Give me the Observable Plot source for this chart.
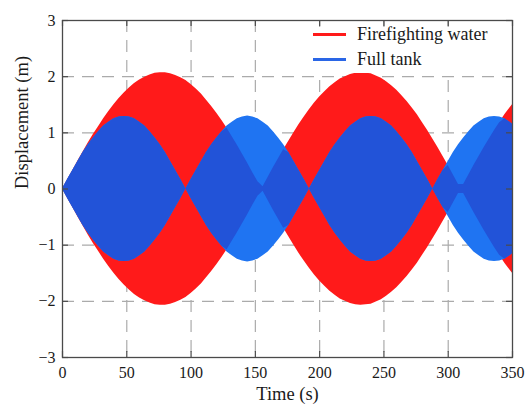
<!DOCTYPE html>
<html>
<head>
<meta charset="utf-8">
<script src="https://cdn.jsdelivr.net/npm/d3@7"></script>
<script src="https://cdn.jsdelivr.net/npm/@observablehq/plot@0.6"></script>
<style>
  html, body { margin: 0; padding: 0; background: #fff; }
  #wrap { position: relative; width: 526px; height: 405px; font-family: "Liberation Serif", "Times New Roman", serif; }
  #legendBox { position: absolute; left: 305px; top: 27px; width: 205px; height: 46px; background: #fff; }
  .row { position: absolute; left: 313px; height: 24px; line-height: 24px; font-size: 18px; color: #1a1a1a; white-space: nowrap; }
  .sw { display: inline-block; width: 33px; height: 3px; vertical-align: middle; margin-right: 11px; position: relative; top: -1px; }
</style>
</head>
<body>
<div id="wrap">
  <div id="chart"></div>
  <div id="legendBox"></div>
  <div class="row" style="top:22px"><span class="sw" style="background:#ff1a1a"></span>Firefighting water</div>
  <div class="row" style="top:47px"><span class="sw" style="background:#2a66e6"></span>Full tank</div>
</div>
<script>
// Sample times (s) at which the oscillation envelopes were read
const time = d3.range(0, 353, 4);

// Envelope amplitude (m) of the "Firefighting water" response
const fireWater = [
  0, 0.17, 0.33, 0.50, 0.66, 0.82, 0.97, 1.11, 1.25, 1.38,
  1.50, 1.61, 1.71, 1.80, 1.88, 1.94, 1.99, 2.03, 2.06, 2.07,
  2.07, 2.05, 2.02, 1.98, 1.93, 1.86, 1.78, 1.69, 1.58, 1.47,
  1.35, 1.22, 1.08, 0.93, 0.78, 0.62, 0.46, 0.29, 0.13, 0.04,
  0.21, 0.38, 0.54, 0.70, 0.85, 1.00, 1.15, 1.28, 1.41, 1.53,
  1.64, 1.73, 1.82, 1.89, 1.96, 2.00, 2.04, 2.06, 2.07, 2.06,
  2.05, 2.01, 1.97, 1.91, 1.84, 1.76, 1.66, 1.56, 1.44, 1.32,
  1.18, 1.04, 0.89, 0.74, 0.58, 0.42, 0.25, 0.08, 0.08, 0.25,
  0.42, 0.58, 0.74, 0.89, 1.04, 1.18, 1.32, 1.44, 1.56
];

// Envelope amplitude (m) of the "Full tank" response
const fullTank = [
  0, 0.17, 0.33, 0.49, 0.65, 0.79, 0.91, 1.02, 1.12, 1.19, 1.25, 1.28,
  1.29, 1.28, 1.25, 1.19, 1.12, 1.02, 0.91, 0.79, 0.65, 0.49, 0.33, 0.17,
  0, 0.17, 0.33, 0.49, 0.65, 0.79, 0.91, 1.02, 1.12, 1.19, 1.25, 1.28,
  1.30, 1.28, 1.25, 1.19, 1.12, 1.02, 0.91, 0.79, 0.65, 0.49, 0.33, 0.17,
  0, 0.17, 0.33, 0.49, 0.65, 0.79, 0.91, 1.02, 1.12, 1.19, 1.25, 1.28,
  1.29, 1.28, 1.25, 1.19, 1.12, 1.02, 0.91, 0.79, 0.65, 0.49, 0.33, 0.17,
  0, 0.17, 0.33, 0.49, 0.65, 0.79, 0.91, 1.02, 1.12, 1.19, 1.25, 1.28,
  1.29, 1.28, 1.25, 1.19, 1.12
];

const xTicks = [0, 50, 100, 150, 200, 250, 300, 350];
const yTicks = [-3, -2, -1, 0, 1, 2, 3];
const xGrid = [50, 100, 150, 200, 250, 300];
const yGrid = [-2, -1, 0, 1, 2];

const rows = time.map((t, i) => ({
  t,
  red: fireWater[i],
  blue: fullTank[i],
  overlap: Math.min(fireWater[i], fullTank[i])
}));

const red = "#ff1a1a";
const blueLight = "#1f74f2";
const blueDark = "#2253d8";
const axisC = "#4a4a4a";
const gridC = "#ababab";
const frameW = 526 - 62 - 14;
const frameH = 405 - 20 - 48;
const fmt = d => (d < 0 ? "\u2212" + Math.abs(d) : String(d));

const chart = Plot.plot({
  width: 526,
  height: 405,
  marginLeft: 62,
  marginRight: 14,
  marginTop: 20,
  marginBottom: 48,
  style: { fontFamily: "'Liberation Serif', 'Times New Roman', serif", fontSize: "16px", color: "#1a1a1a", background: "#fff", overflow: "visible" },
  x: { domain: [0, 350] },
  y: { domain: [-3, 3] },
  marks: [
    Plot.ruleX(xGrid, { stroke: gridC, strokeWidth: 1.2, strokeDasharray: "12,8" }),
    Plot.ruleY(yGrid, { stroke: gridC, strokeWidth: 1.2, strokeDasharray: "12,8" }),
    Plot.areaY(rows, { x: "t", y1: d => -d.red, y2: d => d.red, fill: red, curve: "linear", clip: true }),
    Plot.areaY(rows, { x: "t", y1: d => -d.blue, y2: d => d.blue, fill: blueLight, curve: "linear", clip: true }),
    Plot.areaY(rows, { x: "t", y1: d => -d.overlap, y2: d => d.overlap, fill: blueDark, curve: "linear", clip: true }),
    Plot.tickX(xTicks, { x: d => d, stroke: axisC, strokeWidth: 1.2, insetTop: frameH - 6 }),
    Plot.tickX(xTicks, { x: d => d, stroke: axisC, strokeWidth: 1.2, insetBottom: frameH - 6 }),
    Plot.tickY(yTicks, { y: d => d, stroke: axisC, strokeWidth: 1.2, insetRight: frameW - 6 }),
    Plot.tickY(yTicks, { y: d => d, stroke: axisC, strokeWidth: 1.2, insetLeft: frameW - 6 }),
    Plot.frame({ stroke: axisC, strokeWidth: 1.3 }),
    Plot.axisX(xTicks, { anchor: "bottom", tickSize: 0, tickPadding: 9, label: null, fontSize: 16, tickFormat: fmt }),
    Plot.axisY(yTicks, { anchor: "left", tickSize: 0, tickPadding: 7, label: null, fontSize: 16, tickFormat: fmt }),
    Plot.text(["Time (s)"], { frameAnchor: "bottom", dy: 37, lineAnchor: "middle", fontSize: 18.5, fill: "#1a1a1a" }),
    Plot.text(["Displacement (m)"], { frameAnchor: "left", dx: -40, rotate: -90, lineAnchor: "middle", fontSize: 18.5, fill: "#1a1a1a" })
  ]
});
document.getElementById("chart").appendChild(chart);
</script>
</body>
</html>
